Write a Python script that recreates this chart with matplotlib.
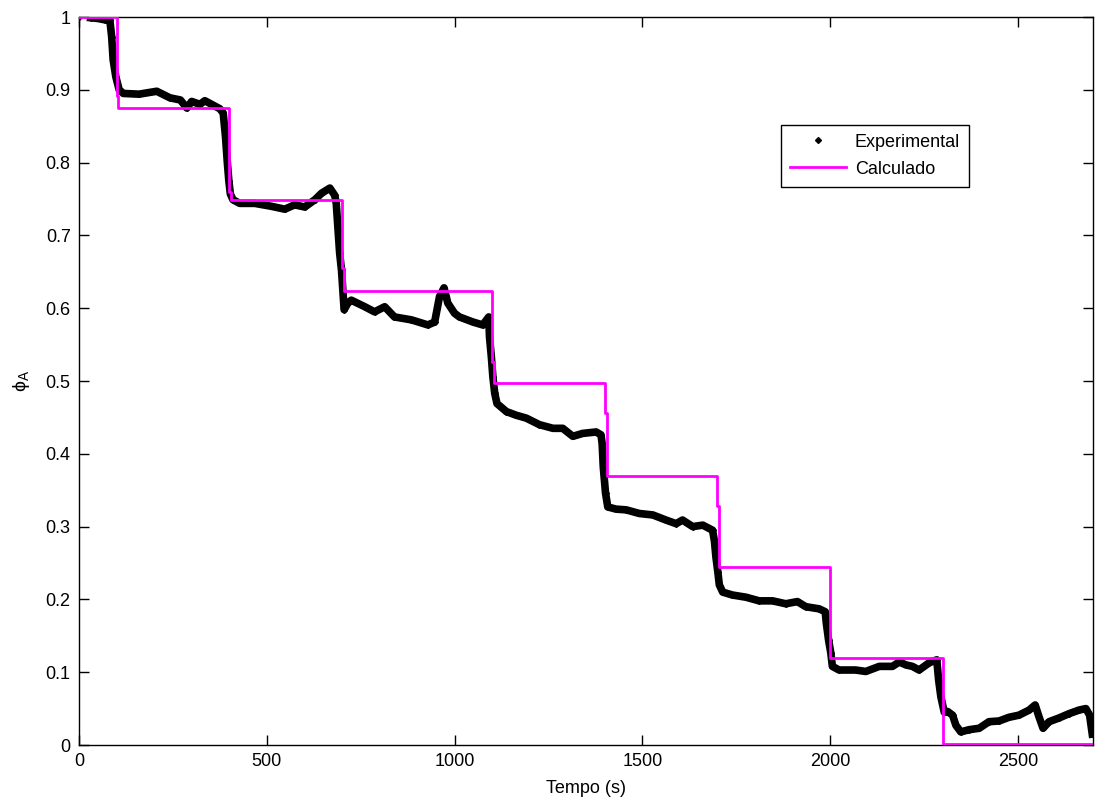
import matplotlib
matplotlib.use("Agg")
import matplotlib.pyplot as plt
from matplotlib.lines import Line2D

plt.rcParams['font.family'] = ['Liberation Sans', 'DejaVu Sans']
plt.rcParams['mathtext.fontset'] = 'custom'
plt.rcParams['mathtext.rm'] = 'Liberation Sans'
plt.rcParams['mathtext.it'] = 'Liberation Sans:italic'

# experimental fraction of A vs time (s)
exp_t = [0, 31, 50, 70, 82, 87, 91, 98, 107, 118, 160, 207, 242, 270, 287, 300,
         322, 335, 357, 375, 384, 390, 395, 399, 403, 410, 428, 468, 512, 548,
         574, 601, 628, 646, 668, 681, 685, 690, 694, 699, 703, 706, 716, 725,
         761, 787, 814, 840, 885, 929, 947, 960, 972, 982, 1000, 1013, 1049,
         1075, 1091, 1093, 1098, 1102, 1107, 1113, 1138, 1164, 1191, 1226, 1262,
         1288, 1315, 1341, 1377, 1390, 1393, 1396, 1402, 1408, 1430, 1457, 1492,
         1528, 1563, 1590, 1607, 1634, 1661, 1687, 1692, 1696, 1701, 1705, 1714,
         1740, 1776, 1811, 1847, 1882, 1913, 1935, 1971, 1987, 1990, 1996, 2002,
         2006, 2024, 2068, 2095, 2131, 2166, 2184, 2202, 2219, 2237, 2264, 2284,
         2289, 2295, 2304, 2313, 2326, 2335, 2348, 2370, 2397, 2423, 2450, 2476,
         2503, 2530, 2546, 2556, 2567, 2583, 2609, 2636, 2663, 2681, 2691, 2698]
exp_phi = [1.0, 0.999, 0.998, 0.996, 0.996, 0.973, 0.941, 0.918, 0.900, 0.895,
           0.894, 0.898, 0.889, 0.886, 0.875, 0.884, 0.880, 0.885, 0.879, 0.874,
           0.868, 0.836, 0.800, 0.775, 0.757, 0.749, 0.744, 0.744, 0.740, 0.736,
           0.742, 0.739, 0.749, 0.758, 0.765, 0.755, 0.744, 0.707, 0.676, 0.652,
           0.621, 0.598, 0.607, 0.611, 0.602, 0.595, 0.602, 0.588, 0.584, 0.577,
           0.581, 0.616, 0.628, 0.607, 0.593, 0.588, 0.581, 0.577, 0.588, 0.561,
           0.533, 0.506, 0.483, 0.469, 0.458, 0.453, 0.449, 0.440, 0.435, 0.435,
           0.424, 0.428, 0.430, 0.426, 0.414, 0.382, 0.346, 0.327, 0.324, 0.323,
           0.318, 0.316, 0.309, 0.304, 0.309, 0.300, 0.302, 0.295, 0.280, 0.258,
           0.238, 0.220, 0.210, 0.206, 0.203, 0.198, 0.198, 0.194, 0.197, 0.190,
           0.187, 0.183, 0.167, 0.144, 0.126, 0.108, 0.103, 0.103, 0.101, 0.108,
           0.108, 0.114, 0.110, 0.108, 0.103, 0.113, 0.117, 0.089, 0.066, 0.045,
           0.046, 0.041, 0.027, 0.018, 0.021, 0.023, 0.032, 0.033, 0.038, 0.041,
           0.048, 0.055, 0.039, 0.023, 0.032, 0.037, 0.043, 0.048, 0.050, 0.041,
           0.015]

# calculated step response (value holds until next time)
calc_t = [0, 100, 105, 400, 405, 700, 705, 1100, 1105, 1400, 1405, 1700, 1705,
          2000, 2300, 2700]
calc_phi = [1.0, 0.891, 0.875, 0.760, 0.749, 0.655, 0.623, 0.526, 0.497, 0.456,
            0.370, 0.328, 0.245, 0.120, 0.002, 0.002]

xticks = [0, 500, 1000, 1500, 2000, 2500]
yticks = [0, 0.1, 0.2, 0.3, 0.4, 0.5, 0.6, 0.7, 0.8, 0.9, 1.0]
ytick_labels = ['0', '0.1', '0.2', '0.3', '0.4', '0.5', '0.6', '0.7', '0.8', '0.9', '1']

fig = plt.figure(figsize=(10.96, 8.01), dpi=100)
ax = fig.add_axes([79 / 1096, 1 - 745 / 801, 1014 / 1096, 728 / 801])

ax.plot(exp_t[1:], exp_phi[1:], color='black', lw=5.5, solid_joinstyle='round', zorder=2)
ax.plot(exp_t, exp_phi, linestyle='none', marker='D', ms=3, color='black', zorder=2)
ax.plot(calc_t, calc_phi, color='#ff00ff', lw=2, drawstyle='steps-post', zorder=3)

ax.set_xlim(0, 2700)
ax.set_ylim(0, 1)
ax.set_xticks(xticks)
ax.set_yticks(yticks)
ax.set_yticklabels(ytick_labels)
ax.tick_params(direction='in', length=7.5, width=1, top=True, right=True,
               labelsize=13, pad=6)
for s in ax.spines.values():
    s.set_linewidth(1)

ax.set_xlabel('Tempo (s)', fontsize=13, labelpad=7)
ax.set_ylabel('\u03d5$_\\mathrm{A}$', fontsize=14, labelpad=10)

handles = [Line2D([], [], linestyle='none', marker='D', ms=3, color='black'),
           Line2D([], [], color='#ff00ff', lw=2)]
leg = ax.legend(handles, ['Experimental', 'Calculado'], loc='upper left',
                bbox_to_anchor=(0.692, 0.852), borderaxespad=0, fontsize=13,
                fancybox=False, framealpha=1, edgecolor='black',
                handlelength=3.1, handletextpad=0.5, labelspacing=0.55,
                borderpad=0.5)
leg.get_frame().set_linewidth(1)

fig.savefig('out.png', dpi=100)
